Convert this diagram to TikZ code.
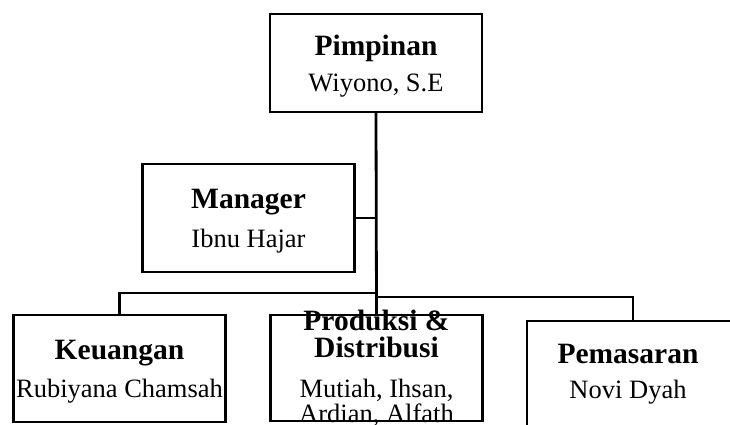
\documentclass[tikz,border=0pt]{standalone}
\usepackage{fontspec}
\setmainfont{Liberation Serif}
\usetikzlibrary{positioning}

\begin{document}
\begin{tikzpicture}[
        x=1pt, y=-1pt,
        kotak/.style={draw, line width=2.2pt, minimum width=212pt, inner sep=0pt},
        judul/.style={anchor=base, align=center, font=\fontsize{29.5}{27}\selectfont\bfseries},
        nama/.style={anchor=base, align=center, font=\fontsize{26.5}{25}\selectfont},
        garis/.style={line width=2.8pt}
    ]
        \clip (0,0) rectangle (730,425);

        % kotak jabatan
        \node[kotak, minimum height=98pt] (pim) at (376,63) {};
        \node[kotak, minimum height=108pt] (man) at (248.5,218) {};
        \node[kotak, minimum height=107pt] (keu) at (119.5,368.5) {};
        \node[kotak, minimum height=106pt] (pro) at (376.5,368) {};
        \node[kotak, minimum height=107pt] (pem) at (633,374.5) {};

        % teks jabatan dan nama (base = baris terakhir)
        \node[judul] (tpim) at (376,56) {Pimpinan};
        \node[nama] (npim) at (376,92) {Wiyono, S.E};
        \node[judul] (tman) at (248.5,208) {Manager};
        \node[nama] (nman) at (248.5,247) {Ibnu Hajar};
        \node[judul] (tkeu) at (119.5,359) {Keuangan};
        \node[nama] (nkeu) at (119.5,397) {Rubiyana Chamsah};
        \node[judul] (tpro) at (376.5,357) {Produksi \&\\Distribusi};
        \node[nama] (npro) at (376.5,422) {Mutiah, Ihsan,\\Ardian, Alfath};
        \node[judul] (tpem) at (628,363) {Pemasaran};
        \node[nama] (npem) at (628,398) {Novi Dyah};

        % garis penghubung
        \coordinate (buskiri) at (376,293);
        \coordinate (buskanan) at (376,297);
        \draw[garis] (pim.south) -- (pro.north);
        \draw[garis] (man.east) -- (man.east -| pim.south);
        \draw[garis] (buskiri) -| (keu.north);
        \draw[garis] (buskanan) -| (pem.north);
\end{tikzpicture}
\end{document}
